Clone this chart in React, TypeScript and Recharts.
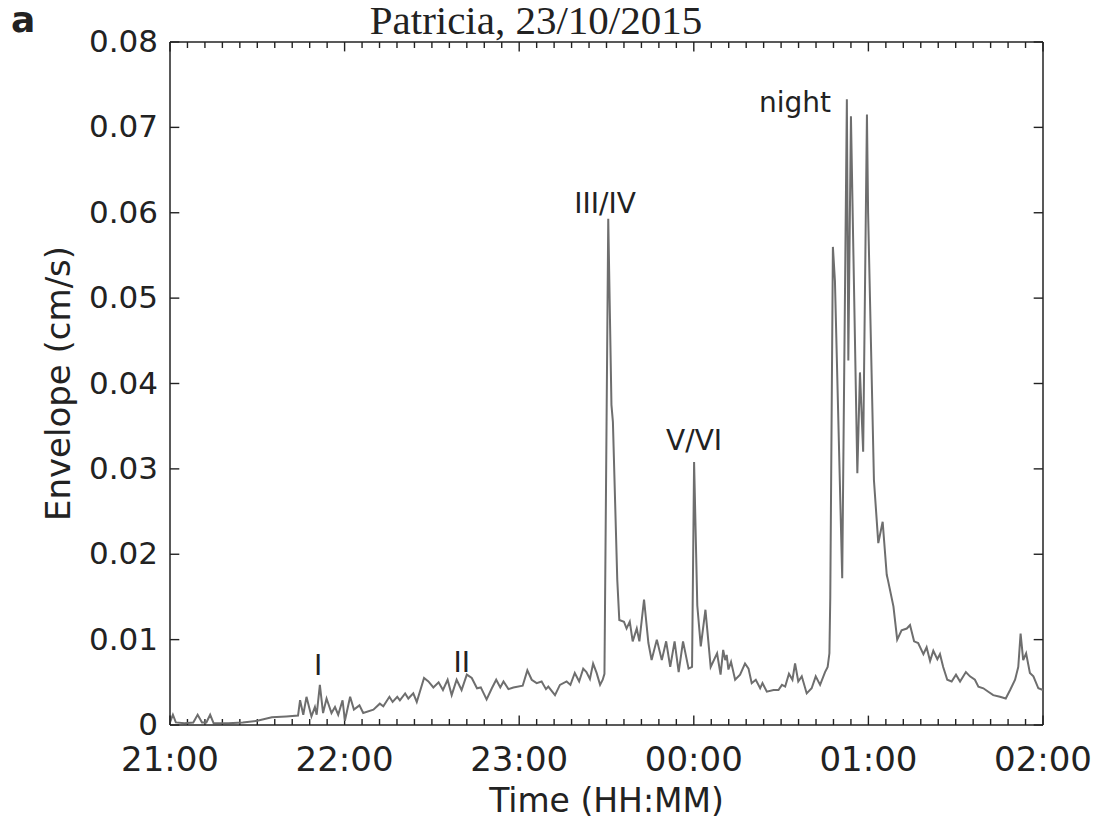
import { LineChart, Line, XAxis, YAxis, ReferenceDot, ReferenceLine } from 'recharts';

// minutes after 21:00
const timeMin = [
  0, 1, 2, 5, 8, 9.5, 11, 12.5, 13.8, 15, 20, 25, 30, 35, 40, 44,
  44.7, 45.8, 46.9, 48.6, 49.8, 50.4, 51.5, 52.6, 53.8, 55.5, 56.7, 57.8, 59.3, 60.1,
  61.9, 63.2, 65.1, 66.4, 69.9, 72.1, 73.3, 75.4, 76.5, 78.1, 79.0, 80.8, 81.9, 83.6, 84.8,
  87.3, 88.8, 90.5, 92.3, 93.8, 95.4, 96.8, 98.5, 100.2, 102.0, 103.7, 105.5, 106.8, 108.8,
  110.6, 112.1, 113.5, 114.6, 116.3, 118.0, 121.2, 122.8, 124.3, 126.0, 127.7, 129.2, 130.0,
  132.3, 134.0, 136.3, 137.6, 139.1, 140.6, 142.0, 143.1, 144.3, 145.4, 146.6, 147.8, 148.7,
  149.3, 150.6, 151.7, 152.2, 153.7, 154.4, 156.0, 156.9, 158.0, 159.0, 160.4, 161.3, 162.9,
  164.4, 165.5, 167.3, 169.0, 170.5, 171.9, 173.4, 174.8, 176.3, 178.2, 179.4,
  180.1, 181.2, 182.4, 184.0, 185.8, 188.0, 189.2, 190.1, 190.8, 191.3, 191.9, 192.8, 194.2,
  195.9, 197.6, 198.8, 199.9, 201.3, 202.8, 203.6, 205.1, 207.4, 209.1, 210.3, 211.4, 212.7,
  213.9, 214.8, 215.9, 217.1, 218.8, 220.5, 221.9, 223.4, 225.1, 226.0, 226.6,
  226.9, 227.8, 228.5, 231.0, 232.6, 233.1, 234.0, 236.2, 237.1, 238.2, 239.5, 239.9,
  241.9, 243.4, 244.9, 246.3, 246.7, 248.6, 249.9, 251.4, 253.2, 254.3, 255.7, 257.1,
  258.9, 260.0, 261.2, 262.3, 263.7, 264.6, 265.7, 267.1, 268.6, 270.1, 271.5, 273.5,
  274.9, 276.6, 277.8, 279.5, 281.2, 282.9, 285.2, 287.2, 288.7, 290.4, 291.5, 292.3,
  293.2, 294.2, 295.5, 296.7, 298.4, 300,
];

// envelope in 1e-3 cm/s
const envelopeMilli = [
  0.3, 1.2, 0.3, 0.2, 0.3, 1.2, 0.3, 0.3, 1.2, 0.2, 0.2, 0.3, 0.5, 0.9, 1.0, 1.1,
  2.9, 1.2, 3.3, 1.0, 2.1, 1.2, 4.7, 1.4, 3.1, 1.4, 2.1, 1.2, 2.9, 0.5,
  3.3, 1.8, 2.3, 1.4, 1.8, 2.5, 2.2, 3.3, 2.7, 3.3, 2.9, 3.7, 3.1, 3.7, 2.7,
  5.5, 5.1, 4.4, 5.0, 4.1, 5.3, 3.5, 5.3, 4.1, 5.9, 5.5, 4.3, 4.4, 3.0,
  4.3, 5.3, 4.4, 5.1, 4.2, 4.4, 4.6, 6.4, 5.3, 4.9, 5.1, 4.2, 4.5,
  3.5, 4.7, 5.1, 4.7, 6.1, 5.1, 6.6, 6.2, 5.4, 7.2, 6.1, 4.7, 5.3,
  6.0, 59.3, 37.5, 35.5, 17.0, 12.3, 12.1, 11.3, 12.1, 9.8, 11.3, 9.8, 14.7,
  9.6, 7.6, 10.0, 7.6, 9.8, 6.8, 9.8, 6.2, 9.8, 6.6, 6.8,
  30.8, 14.0, 9.2, 13.5, 6.8, 8.4, 5.9, 8.8, 7.6, 8.2, 6.5, 7.4, 5.3,
  5.9, 7.2, 6.6, 4.9, 5.3, 4.3, 4.9, 3.9, 4.1, 4.1, 4.7, 4.5, 6.0,
  5.3, 7.2, 5.1, 5.7, 3.7, 4.3, 5.7, 4.7, 6.2, 6.8, 8.4,
  15.0, 56.0, 52.0, 17.2, 73.3, 42.7, 71.3, 29.5, 41.3, 32.0, 71.5, 60.0,
  28.7, 21.3, 23.8, 17.6, 17.0, 13.9, 10.0, 11.1, 11.3, 11.7, 9.8, 9.6,
  8.3, 9.1, 7.5, 8.7, 7.7, 8.3, 6.8, 5.3, 5.1, 5.9, 5.1, 6.2,
  5.7, 5.3, 4.5, 4.3, 3.9, 3.5, 3.3, 3.1, 4.1, 5.3, 6.8, 10.7,
  7.6, 8.4, 6.1, 5.7, 4.3, 4.1,
];

const hourTicks = [0, 60, 120, 180, 240, 300];
const hourLabels = ['21:00', '22:00', '23:00', '00:00', '01:00', '02:00'];
const yTicks = [0, 0.01, 0.02, 0.03, 0.04, 0.05, 0.06, 0.07, 0.08];

// event annotations
const eventText = ['I', 'II', 'III/IV', 'V/VI', 'night'];
const eventMin = [50.9, 100.3, 149.5, 180.1, 214.8];
const eventVal = [0.007, 0.0074, 0.0611, 0.0334, 0.073];

// minor ticks every 6 minutes
const minorTicks = Array.from({ length: 51 }, (_, i) => i * 6);

const data = timeMin.map((t, i) => ({ t, v: envelopeMilli[i] / 1000 }));

const INK = '#222';
const FONT = '"DejaVu Sans", sans-serif';

// inward tick marks on all four sides of the frame, in data units
const X_MAX = 300;
const Y_MAX = 0.08;
const xTickLen = (t: number) => (t % 60 === 0 ? 0.0011 : 0.0007);
const Y_TICK_LEN = 3.2;

const BottomTick = (props: any) => {
  const { x, y, payload } = props;
  const idx = hourTicks.indexOf(payload.value);
  if (idx < 0) return <g />;
  return (
    <text x={x} y={y + 46} textAnchor="middle" fontSize={34} fontFamily={FONT} fill={INK}>
      {hourLabels[idx]}
    </text>
  );
};

const LeftTick = (props: any) => {
  const { x, y, payload } = props;
  const label = payload.value === 0 ? '0' : payload.value.toFixed(2);
  return (
    <text x={x - 12} y={y + 10} textAnchor="end" fontSize={31} fontFamily={FONT} fill={INK}>
      {label}
    </text>
  );
};

export default function App() {
  return (
    <div style={{ position: 'absolute', left: 0, top: 0, width: 1093, height: 820, background: '#fff' }}>
      <div
        style={{
          position: 'absolute', left: 11, top: 0, fontFamily: FONT, fontWeight: 'bold',
          fontSize: 36, lineHeight: '40px', color: INK,
        }}
      >
        a
      </div>
      <div
        style={{
          position: 'absolute', left: 0, width: 1072, top: 0, textAlign: 'center',
          fontFamily: '"Liberation Serif", serif', fontSize: 41, lineHeight: '40px', color: INK,
        }}
      >
        Patricia, 23/10/2015
      </div>
      <LineChart
        width={1093}
        height={820}
        data={data}
        margin={{ top: 42, right: 50, bottom: 0, left: 0 }}
      >
        <XAxis
          dataKey="t"
          type="number"
          domain={[0, X_MAX]}
          ticks={minorTicks}
          interval={0}
          height={95}
          tickSize={0}
          tickMargin={0}
          tick={<BottomTick />}
          tickLine={false}
          axisLine={{ stroke: INK, strokeWidth: 1.5 }}
          label={{ value: 'Time (HH:MM)', position: 'insideBottom', offset: 8, fontSize: 33, fontFamily: FONT, fill: INK }}
        />
        <YAxis
          type="number"
          domain={[0, Y_MAX]}
          ticks={yTicks}
          interval={0}
          width={170}
          tickSize={0}
          tickMargin={0}
          tick={<LeftTick />}
          tickLine={false}
          axisLine={{ stroke: INK, strokeWidth: 1.5 }}
          label={{
            value: 'Envelope (cm/s)', angle: -90, position: 'insideLeft', offset: 58,
            fontSize: 34, fontFamily: FONT, fill: INK, style: { textAnchor: 'middle' },
          }}
        />
        {/* frame: top and right edges */}
        <ReferenceLine y={Y_MAX} stroke={INK} strokeWidth={1.5} />
        <ReferenceLine x={X_MAX} stroke={INK} strokeWidth={1.5} />
        {minorTicks.map((t) => (
          <ReferenceLine
            key={`xb${t}`}
            segment={[{ x: t, y: 0 }, { x: t, y: xTickLen(t) }]}
            stroke={INK}
            strokeWidth={1.4}
          />
        ))}
        {minorTicks.map((t) => (
          <ReferenceLine
            key={`xt${t}`}
            segment={[{ x: t, y: Y_MAX }, { x: t, y: Y_MAX - xTickLen(t) }]}
            stroke={INK}
            strokeWidth={1.4}
          />
        ))}
        {yTicks.map((v) => (
          <ReferenceLine
            key={`yl${v}`}
            segment={[{ x: 0, y: v }, { x: Y_TICK_LEN, y: v }]}
            stroke={INK}
            strokeWidth={1.4}
          />
        ))}
        {yTicks.map((v) => (
          <ReferenceLine
            key={`yr${v}`}
            segment={[{ x: X_MAX, y: v }, { x: X_MAX - Y_TICK_LEN, y: v }]}
            stroke={INK}
            strokeWidth={1.4}
          />
        ))}
        <Line
          type="linear"
          dataKey="v"
          stroke="#6e6e6e"
          strokeWidth={2}
          dot={false}
          isAnimationActive={false}
        />
        {eventText.map((txt, i) => (
          <ReferenceDot
            key={txt}
            x={eventMin[i]}
            y={eventVal[i]}
            r={0}
            fill="none"
            stroke="none"
            label={{ value: txt, position: 'center', fontSize: 28, fontFamily: FONT, fill: INK }}
          />
        ))}
      </LineChart>
    </div>
  );
}
